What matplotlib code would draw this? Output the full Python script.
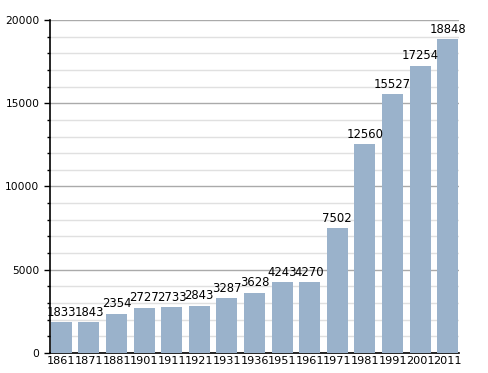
import numpy as np
from matplotlib import pyplot as plt
from matplotlib.ticker import MultipleLocator

years = ["1861", "1871", "1881", "1901", "1911", "1921", "1931", "1936",
         "1951", "1961", "1971", "1981", "1991", "2001", "2011"]
population = [1833, 1843, 2354, 2727, 2733, 2843, 3287, 3628,
              4243, 4270, 7502, 12560, 15527, 17254, 18848]

fig = plt.figure(figsize=(4.88, 3.73), dpi=100)
ax = fig.add_axes([50/488, 20/373, 409/488, 333/373])

w = 0.76
x = np.arange(len(years))
ax.bar(x, population, width=w, color="#9ab2cb", zorder=3)
for xi, v in zip(x, population):
    ax.text(xi, v + 200, str(v), ha="center", va="bottom", fontsize=8.4, zorder=4)

ax.set_xlim(-w/2 - 0.03, len(years) - 1 + w/2 + 0.03)
ax.set_ylim(0, 20000)
ax.set_xticks(x)
ax.set_xticklabels(years, fontsize=8.1)
ax.tick_params(axis="x", length=0, pad=2)
ax.yaxis.set_major_locator(MultipleLocator(5000))
ax.yaxis.set_minor_locator(MultipleLocator(1000))
ax.tick_params(axis="y", which="major", labelsize=7.7, length=4, width=1)
ax.tick_params(axis="y", which="minor", length=2, width=1)
ax.grid(axis="y", which="major", color="#aaaaaa", lw=1, zorder=0)
ax.grid(axis="y", which="minor", color="#e0e0e0", lw=1, zorder=0)
for s in ["top", "right"]:
    ax.spines[s].set_visible(False)
ax.spines["left"].set_linewidth(1.2)
ax.spines["bottom"].set_linewidth(1.2)

fig.savefig("out.png", dpi=100)
